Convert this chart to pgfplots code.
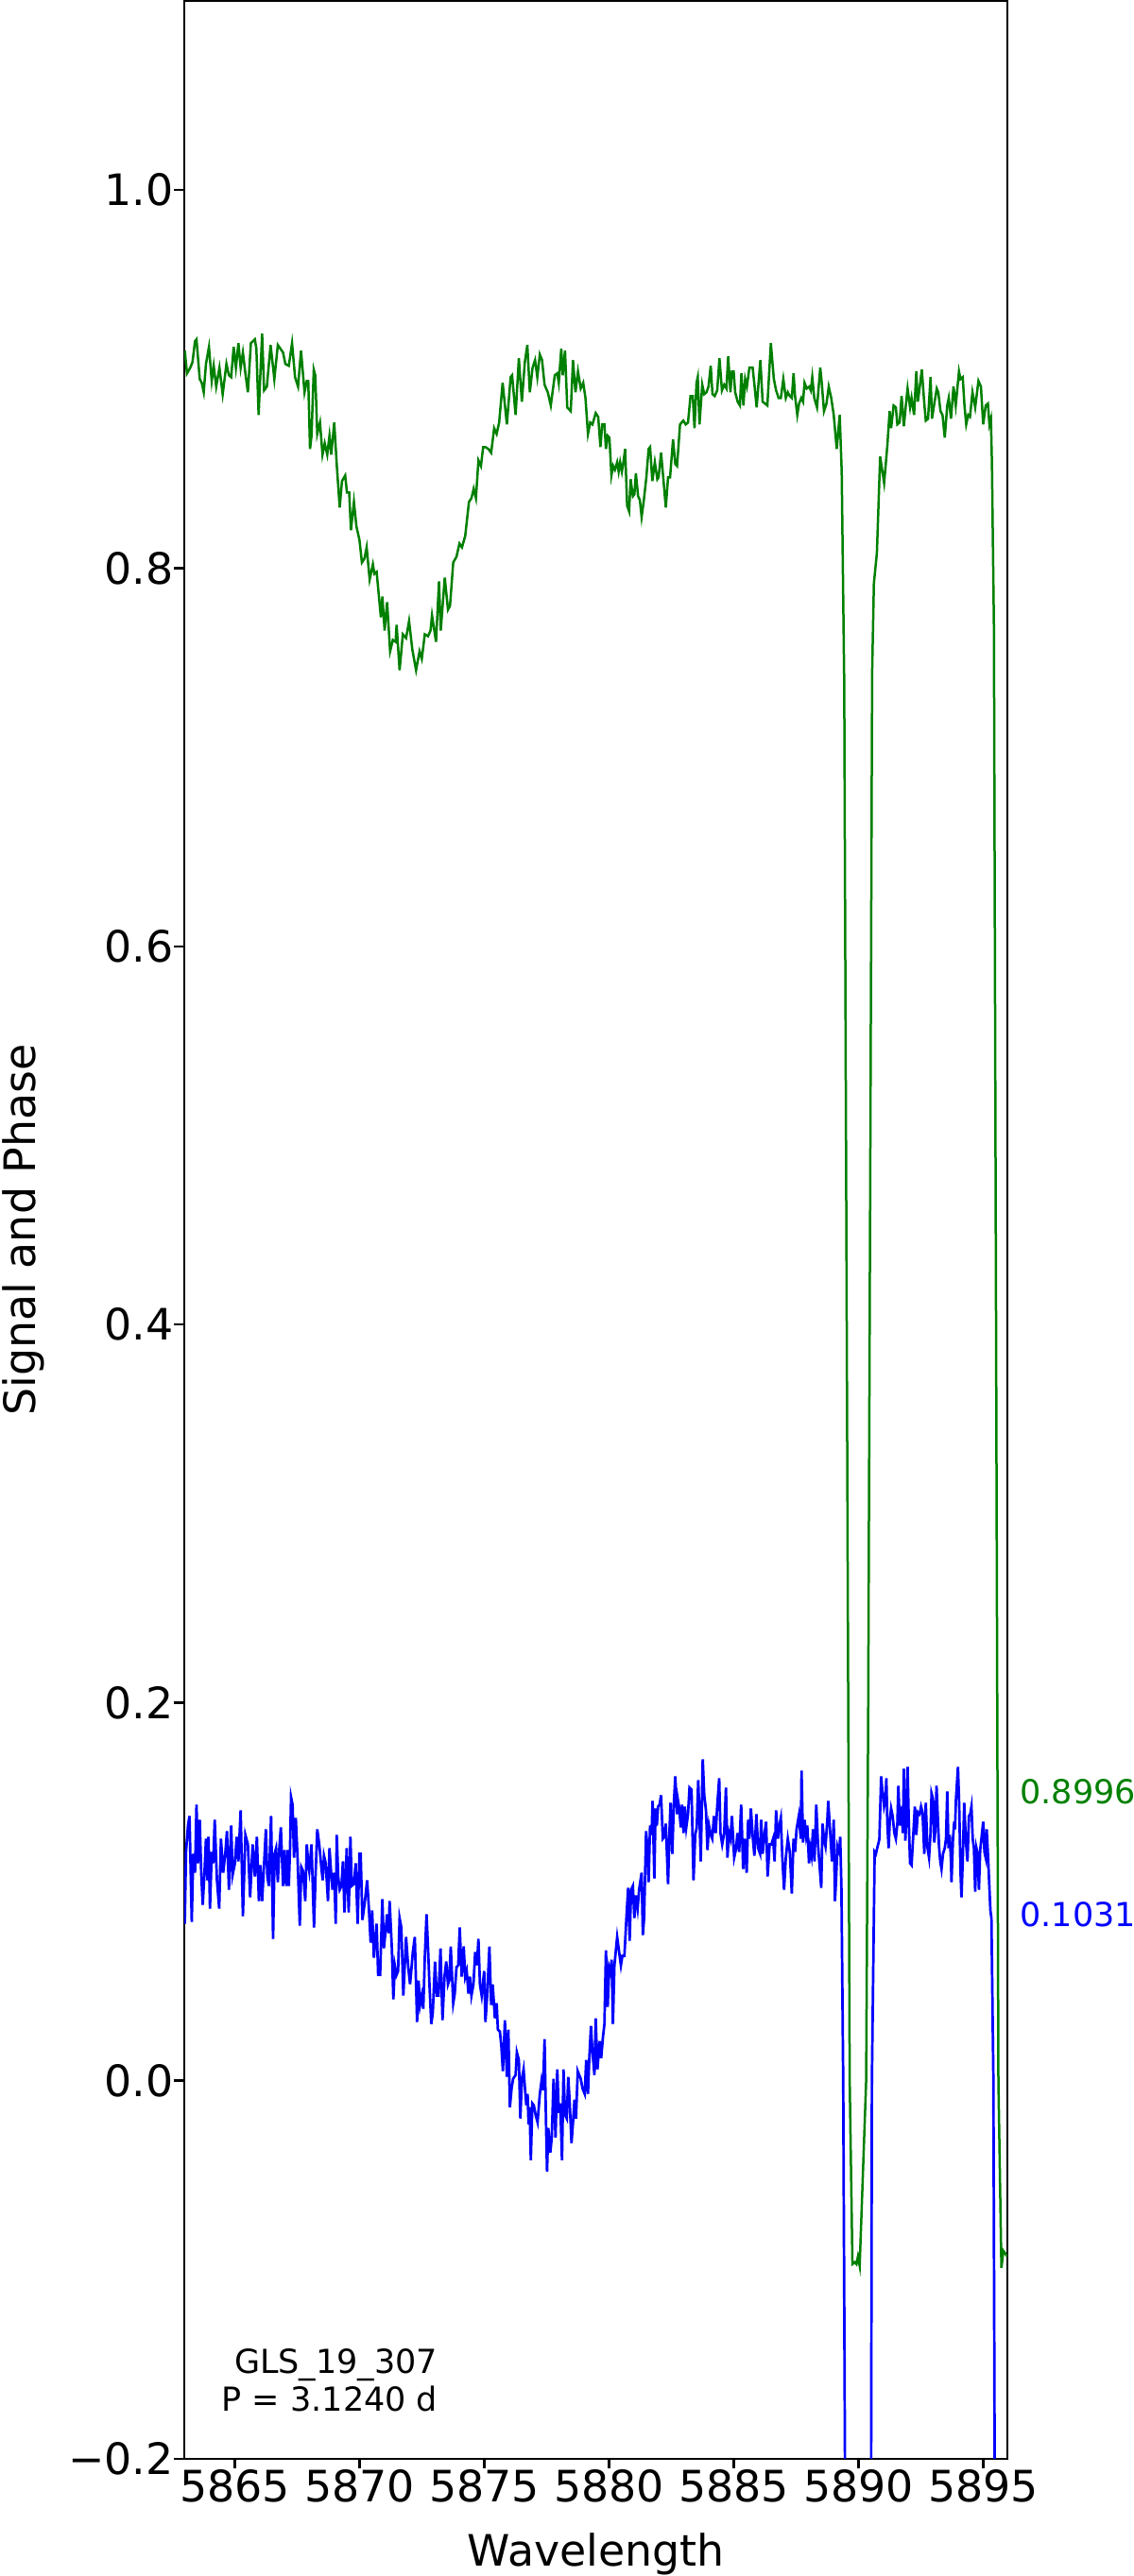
\documentclass[border=0pt]{standalone}
\usepackage{fontspec}
\setmainfont{DejaVu Sans}
\usepackage{pgfplots}
\pgfplotsset{compat=1.18}
\definecolor{mplgreen}{HTML}{008000}
\definecolor{mplblue}{HTML}{0000FF}

\begin{document}
\begin{tikzpicture}
\useasboundingbox (-46.8pt,-29.76pt) rectangle (241.2pt,624.72pt);
\begin{axis}[
    at={(0pt,0pt)}, anchor=south west,
    scale only axis, width=209.04pt, height=624.48pt,
    xmin=5862.97, xmax=5895.96, ymin=-0.2, ymax=1.1,
    xtick={5865,5870,5875,5880,5885,5890,5895},
    xticklabels={5865,5870,5875,5880,5885,5890,5895},
    ytick={-0.2,0,0.2,0.4,0.6,0.8,1.0},
    yticklabels={−0.2,0.0,0.2,0.4,0.6,0.8,1.0},
    scaled ticks=false,
    tick align=outside, tick pos=left, major tick length=2.52pt,
    every tick/.style={black, line width=0.58pt},
    axis line style={line width=0.58pt},
    tick label style={font=\fontsize{11}{13}\selectfont, inner sep=0pt},
    xticklabel style={anchor=north},
    yticklabel style={anchor=east},
    label style={font=\fontsize{11}{13}\selectfont, inner sep=0pt},
    xlabel={Wavelength},
    ylabel={Signal and Phase},
    xlabel style={at={(axis description cs:0.5,-0.04381)}, anchor=base},
    ylabel style={at={(axis description cs:-0.2216,0.5)}, anchor=north},
    clip mode=individual,
]
% upper spectrum
\addplot[color=mplgreen, line width=0.6pt] table {
x y
5862.99 0.915
5863.08 0.903
5863.21 0.906
5863.30 0.909
5863.40 0.920
5863.46 0.921
5863.59 0.900
5863.67 0.898
5863.75 0.893
5863.84 0.908
5863.96 0.917
5864.07 0.899
5864.15 0.907
5864.25 0.896
5864.38 0.906
5864.51 0.892
5864.66 0.908
5864.76 0.902
5864.85 0.901
5864.95 0.917
5865.04 0.906
5865.14 0.919
5865.23 0.906
5865.32 0.914
5865.42 0.903
5865.52 0.893
5865.64 0.919
5865.80 0.921
5865.86 0.916
5865.95 0.881
5866.09 0.924
5866.17 0.894
5866.28 0.896
5866.43 0.918
5866.58 0.900
5866.72 0.918
5866.93 0.914
5867.02 0.908
5867.16 0.907
5867.29 0.919
5867.41 0.901
5867.53 0.896
5867.65 0.915
5867.79 0.893
5867.88 0.899
5867.94 0.899
5868.01 0.863
5868.07 0.870
5868.16 0.905
5868.22 0.902
5868.30 0.871
5868.41 0.877
5868.51 0.860
5868.60 0.866
5868.70 0.860
5868.79 0.870
5868.86 0.860
5868.98 0.877
5869.08 0.855
5869.20 0.832
5869.29 0.846
5869.42 0.849
5869.49 0.840
5869.58 0.840
5869.65 0.820
5869.77 0.835
5869.87 0.822
5869.99 0.815
5870.09 0.803
5870.19 0.805
5870.28 0.811
5870.40 0.794
5870.53 0.802
5870.59 0.797
5870.68 0.798
5870.85 0.774
5870.91 0.785
5871.00 0.767
5871.10 0.782
5871.22 0.756
5871.33 0.762
5871.44 0.761
5871.48 0.770
5871.60 0.746
5871.73 0.765
5871.86 0.763
5871.98 0.772
5872.11 0.757
5872.26 0.746
5872.40 0.756
5872.49 0.752
5872.61 0.765
5872.74 0.764
5872.84 0.767
5872.90 0.775
5873.06 0.761
5873.18 0.793
5873.25 0.767
5873.41 0.795
5873.54 0.778
5873.62 0.780
5873.75 0.803
5873.88 0.806
5874.00 0.813
5874.10 0.811
5874.23 0.817
5874.38 0.835
5874.48 0.837
5874.57 0.842
5874.66 0.837
5874.76 0.857
5874.86 0.854
5874.95 0.864
5875.04 0.864
5875.16 0.863
5875.27 0.861
5875.39 0.874
5875.49 0.871
5875.59 0.877
5875.73 0.898
5875.90 0.876
5876.05 0.901
5876.11 0.902
5876.25 0.881
5876.38 0.911
5876.50 0.888
5876.62 0.909
5876.72 0.918
5876.82 0.893
5876.93 0.906
5877.03 0.910
5877.12 0.901
5877.22 0.913
5877.31 0.910
5877.41 0.897
5877.54 0.893
5877.66 0.886
5877.82 0.902
5877.92 0.903
5877.98 0.898
5878.08 0.916
5878.14 0.902
5878.23 0.915
5878.32 0.885
5878.46 0.883
5878.55 0.910
5878.65 0.893
5878.75 0.904
5878.86 0.895
5878.96 0.898
5879.05 0.890
5879.15 0.871
5879.24 0.877
5879.33 0.876
5879.46 0.882
5879.56 0.880
5879.65 0.864
5879.72 0.876
5879.81 0.876
5879.87 0.863
5879.94 0.870
5880.01 0.869
5880.09 0.849
5880.16 0.854
5880.23 0.852
5880.32 0.856
5880.38 0.851
5880.44 0.856
5880.51 0.851
5880.57 0.856
5880.64 0.863
5880.72 0.833
5880.80 0.830
5880.86 0.847
5880.95 0.838
5881.01 0.839
5881.07 0.850
5881.16 0.838
5881.23 0.836
5881.30 0.827
5881.39 0.836
5881.49 0.848
5881.58 0.863
5881.64 0.864
5881.73 0.846
5881.83 0.856
5881.93 0.847
5881.98 0.848
5882.08 0.861
5882.18 0.846
5882.27 0.832
5882.36 0.848
5882.44 0.848
5882.56 0.868
5882.65 0.855
5882.72 0.854
5882.84 0.876
5882.97 0.878
5883.07 0.876
5883.16 0.877
5883.26 0.891
5883.35 0.891
5883.42 0.874
5883.50 0.898
5883.55 0.901
5883.62 0.876
5883.73 0.897
5883.81 0.892
5883.90 0.893
5883.98 0.896
5884.07 0.907
5884.14 0.892
5884.23 0.891
5884.33 0.894
5884.42 0.911
5884.52 0.894
5884.61 0.897
5884.70 0.895
5884.77 0.912
5884.86 0.893
5884.92 0.904
5884.99 0.904
5885.05 0.893
5885.15 0.888
5885.24 0.886
5885.30 0.903
5885.38 0.886
5885.45 0.900
5885.52 0.896
5885.62 0.906
5885.75 0.906
5885.83 0.896
5885.91 0.885
5885.97 0.895
5886.06 0.910
5886.15 0.888
5886.25 0.887
5886.34 0.886
5886.48 0.919
5886.60 0.900
5886.69 0.894
5886.79 0.890
5886.88 0.890
5886.98 0.900
5887.08 0.890
5887.16 0.893
5887.24 0.891
5887.32 0.890
5887.39 0.903
5887.45 0.891
5887.54 0.881
5887.61 0.887
5887.70 0.890
5887.77 0.888
5887.83 0.898
5887.92 0.895
5888.02 0.896
5888.08 0.894
5888.14 0.901
5888.22 0.890
5888.33 0.885
5888.46 0.906
5888.52 0.898
5888.61 0.883
5888.71 0.887
5888.80 0.896
5888.90 0.890
5889.00 0.881
5889.12 0.863
5889.24 0.881
5889.32 0.851
5889.42 0.740
5889.64 0.000
5889.75 -0.097
5889.85 -0.096
5889.91 -0.097
5889.97 -0.093
5890.04 -0.098
5890.30 0.000
5890.38 0.190
5890.54 0.745
5890.61 0.792
5890.73 0.808
5890.86 0.859
5891.02 0.845
5891.15 0.865
5891.24 0.883
5891.30 0.874
5891.40 0.886
5891.49 0.885
5891.55 0.876
5891.64 0.877
5891.72 0.891
5891.81 0.875
5891.89 0.886
5891.96 0.895
5892.06 0.885
5892.12 0.890
5892.22 0.881
5892.31 0.904
5892.37 0.888
5892.44 0.895
5892.53 0.905
5892.63 0.887
5892.69 0.878
5892.78 0.879
5892.88 0.901
5892.94 0.879
5893.03 0.887
5893.13 0.895
5893.19 0.893
5893.28 0.883
5893.36 0.881
5893.45 0.869
5893.55 0.886
5893.61 0.890
5893.70 0.879
5893.80 0.896
5893.89 0.886
5894.02 0.904
5894.08 0.900
5894.17 0.901
5894.24 0.886
5894.31 0.876
5894.39 0.881
5894.46 0.880
5894.56 0.893
5894.67 0.885
5894.80 0.899
5894.90 0.896
5894.99 0.876
5895.09 0.886
5895.18 0.887
5895.24 0.876
5895.30 0.879
5895.34 0.856
5895.42 0.770
5895.60 0.000
5895.72 -0.099
5895.80 -0.090
5895.96 -0.093
};
% lower spectrum
\addplot[color=mplblue, line width=0.65pt] table {
x y
5862.99 0.083
5863.04 0.121
5863.12 0.135
5863.18 0.140
5863.27 0.084
5863.33 0.120
5863.40 0.110
5863.46 0.146
5863.52 0.115
5863.59 0.138
5863.65 0.110
5863.71 0.093
5863.78 0.110
5863.84 0.128
5863.90 0.106
5863.94 0.129
5864.00 0.091
5864.07 0.121
5864.13 0.115
5864.19 0.138
5864.28 0.106
5864.37 0.091
5864.44 0.128
5864.53 0.110
5864.62 0.121
5864.68 0.132
5864.76 0.101
5864.85 0.135
5864.91 0.109
5865.00 0.115
5865.07 0.129
5865.14 0.116
5865.23 0.143
5865.32 0.087
5865.42 0.130
5865.52 0.125
5865.61 0.097
5865.71 0.125
5865.80 0.108
5865.88 0.129
5865.96 0.095
5866.02 0.114
5866.09 0.095
5866.17 0.115
5866.24 0.133
5866.30 0.108
5866.36 0.103
5866.45 0.140
5866.53 0.075
5866.59 0.120
5866.65 0.123
5866.72 0.105
5866.78 0.123
5866.84 0.134
5866.93 0.103
5866.99 0.122
5867.06 0.103
5867.12 0.122
5867.16 0.103
5867.21 0.123
5867.25 0.150
5867.31 0.146
5867.37 0.118
5867.44 0.139
5867.51 0.118
5867.60 0.082
5867.66 0.113
5867.73 0.111
5867.82 0.095
5867.88 0.125
5867.94 0.115
5867.98 0.111
5868.07 0.125
5868.17 0.081
5868.23 0.108
5868.30 0.133
5868.38 0.125
5868.47 0.112
5868.52 0.106
5868.57 0.119
5868.64 0.115
5868.73 0.095
5868.79 0.123
5868.85 0.111
5868.91 0.101
5868.98 0.110
5869.04 0.083
5869.08 0.130
5869.14 0.108
5869.20 0.101
5869.27 0.103
5869.33 0.116
5869.39 0.089
5869.48 0.123
5869.56 0.089
5869.63 0.129
5869.68 0.103
5869.77 0.104
5869.84 0.115
5869.92 0.083
5869.99 0.120
5870.04 0.120
5870.11 0.085
5870.21 0.095
5870.30 0.106
5870.37 0.091
5870.44 0.073
5870.50 0.090
5870.57 0.065
5870.63 0.075
5870.68 0.083
5870.74 0.056
5870.82 0.056
5870.91 0.096
5870.97 0.070
5871.03 0.078
5871.10 0.088
5871.16 0.078
5871.20 0.095
5871.29 0.070
5871.35 0.043
5871.41 0.061
5871.48 0.056
5871.54 0.058
5871.60 0.086
5871.67 0.081
5871.75 0.045
5871.86 0.076
5871.94 0.061
5872.02 0.051
5872.08 0.060
5872.13 0.068
5872.21 0.076
5872.30 0.031
5872.36 0.053
5872.42 0.040
5872.49 0.045
5872.55 0.038
5872.61 0.065
5872.68 0.088
5872.74 0.070
5872.80 0.050
5872.87 0.030
5872.93 0.036
5873.02 0.063
5873.09 0.045
5873.16 0.045
5873.24 0.070
5873.32 0.032
5873.40 0.055
5873.47 0.063
5873.54 0.051
5873.59 0.053
5873.65 0.071
5873.75 0.041
5873.81 0.046
5873.88 0.060
5873.95 0.061
5874.01 0.081
5874.09 0.055
5874.17 0.071
5874.23 0.055
5874.29 0.058
5874.36 0.046
5874.42 0.055
5874.48 0.045
5874.56 0.051
5874.63 0.068
5874.70 0.061
5874.76 0.075
5874.82 0.051
5874.89 0.045
5874.99 0.058
5875.04 0.031
5875.11 0.045
5875.20 0.071
5875.27 0.040
5875.33 0.051
5875.42 0.033
5875.49 0.041
5875.54 0.027
5875.62 0.026
5875.68 0.018
5875.74 0.005
5875.82 0.032
5875.90 0.002
5875.96 0.027
5876.02 -0.014
5876.09 -0.004
5876.15 0.001
5876.25 0.003
5876.30 0.015
5876.38 0.011
5876.44 -0.020
5876.50 0.001
5876.57 0.006
5876.63 -0.005
5876.68 -0.013
5876.73 -0.007
5876.77 -0.023
5876.81 -0.014
5876.86 -0.042
5876.92 -0.012
5876.98 -0.013
5877.05 -0.018
5877.13 -0.022
5877.22 -0.007
5877.29 0.000
5877.35 -0.005
5877.41 0.022
5877.47 -0.023
5877.51 -0.048
5877.56 -0.025
5877.64 -0.038
5877.70 -0.030
5877.77 0.001
5877.85 -0.030
5877.92 0.006
5877.98 -0.017
5878.04 -0.012
5878.11 -0.042
5878.17 0.006
5878.23 -0.018
5878.30 -0.020
5878.36 0.002
5878.42 -0.012
5878.49 -0.033
5878.55 -0.022
5878.61 -0.010
5878.67 -0.020
5878.74 0.005
5878.80 0.003
5878.86 0.001
5878.93 -0.004
5879.02 -0.007
5879.08 0.011
5879.15 -0.007
5879.20 0.011
5879.27 0.029
5879.33 0.015
5879.41 0.003
5879.46 0.033
5879.53 0.006
5879.62 0.021
5879.68 0.012
5879.75 0.023
5879.81 0.030
5879.87 0.069
5879.94 0.039
5880.00 0.060
5880.06 0.057
5880.10 0.064
5880.15 0.030
5880.21 0.061
5880.32 0.076
5880.38 0.070
5880.47 0.061
5880.53 0.066
5880.61 0.066
5880.69 0.086
5880.76 0.102
5880.82 0.074
5880.88 0.101
5880.95 0.103
5881.01 0.086
5881.07 0.098
5881.14 0.091
5881.20 0.101
5881.30 0.110
5881.35 0.077
5881.40 0.086
5881.48 0.132
5881.54 0.122
5881.58 0.105
5881.64 0.135
5881.70 0.130
5881.74 0.148
5881.81 0.107
5881.86 0.144
5881.91 0.135
5881.96 0.145
5882.02 0.146
5882.08 0.151
5882.15 0.128
5882.21 0.129
5882.27 0.136
5882.36 0.104
5882.42 0.133
5882.46 0.147
5882.53 0.120
5882.59 0.146
5882.65 0.161
5882.72 0.141
5882.75 0.149
5882.80 0.145
5882.87 0.134
5882.92 0.146
5882.98 0.131
5883.03 0.145
5883.09 0.134
5883.16 0.141
5883.22 0.155
5883.30 0.154
5883.38 0.106
5883.45 0.130
5883.51 0.134
5883.57 0.159
5883.62 0.140
5883.67 0.116
5883.75 0.170
5883.81 0.151
5883.88 0.143
5883.94 0.122
5884.00 0.135
5884.07 0.130
5884.13 0.128
5884.20 0.140
5884.27 0.131
5884.33 0.145
5884.41 0.160
5884.46 0.131
5884.53 0.125
5884.61 0.131
5884.68 0.155
5884.74 0.118
5884.80 0.131
5884.86 0.128
5884.92 0.140
5885.01 0.118
5885.09 0.123
5885.14 0.131
5885.21 0.121
5885.29 0.146
5885.37 0.112
5885.43 0.128
5885.51 0.110
5885.57 0.138
5885.62 0.128
5885.68 0.144
5885.76 0.128
5885.82 0.119
5885.90 0.141
5885.97 0.123
5886.05 0.120
5886.09 0.138
5886.15 0.120
5886.23 0.131
5886.29 0.137
5886.35 0.108
5886.43 0.125
5886.50 0.125
5886.57 0.128
5886.63 0.116
5886.69 0.143
5886.76 0.128
5886.82 0.135
5886.88 0.139
5886.94 0.118
5887.01 0.101
5887.08 0.118
5887.16 0.128
5887.24 0.121
5887.32 0.099
5887.39 0.128
5887.45 0.121
5887.51 0.133
5887.60 0.140
5887.68 0.128
5887.71 0.164
5887.77 0.126
5887.83 0.138
5887.89 0.130
5887.94 0.135
5888.01 0.115
5888.06 0.123
5888.11 0.119
5888.17 0.133
5888.23 0.116
5888.30 0.146
5888.37 0.125
5888.42 0.116
5888.50 0.102
5888.55 0.136
5888.61 0.128
5888.67 0.124
5888.74 0.137
5888.78 0.148
5888.84 0.135
5888.93 0.116
5889.00 0.138
5889.05 0.095
5889.09 0.105
5889.15 0.124
5889.22 0.121
5889.26 0.129
5889.31 0.101
5889.38 0.000
5889.45 -0.200
5889.50 -0.600
5890.46 -0.600
5890.50 -0.200
5890.53 0.000
5890.64 0.121
5890.69 0.120
5890.76 0.124
5890.80 0.126
5890.83 0.128
5890.90 0.161
5890.95 0.153
5890.98 0.151
5891.02 0.145
5891.07 0.148
5891.11 0.160
5891.15 0.136
5891.20 0.123
5891.25 0.138
5891.30 0.144
5891.36 0.140
5891.43 0.131
5891.49 0.128
5891.55 0.136
5891.59 0.156
5891.65 0.135
5891.72 0.145
5891.77 0.131
5891.81 0.165
5891.87 0.127
5891.91 0.138
5891.96 0.166
5892.01 0.136
5892.06 0.115
5892.12 0.114
5892.18 0.128
5892.25 0.145
5892.31 0.130
5892.37 0.142
5892.44 0.141
5892.50 0.145
5892.56 0.142
5892.63 0.120
5892.69 0.147
5892.75 0.124
5892.82 0.118
5892.88 0.131
5892.92 0.152
5892.98 0.149
5893.03 0.126
5893.07 0.132
5893.12 0.156
5893.17 0.140
5893.22 0.124
5893.27 0.116
5893.32 0.112
5893.38 0.120
5893.45 0.123
5893.50 0.128
5893.55 0.153
5893.60 0.123
5893.65 0.130
5893.70 0.116
5893.72 0.105
5893.78 0.128
5893.83 0.137
5893.86 0.133
5893.90 0.149
5893.98 0.166
5894.03 0.145
5894.08 0.111
5894.12 0.097
5894.17 0.116
5894.23 0.147
5894.29 0.128
5894.36 0.116
5894.42 0.140
5894.47 0.141
5894.52 0.145
5894.57 0.128
5894.62 0.123
5894.67 0.100
5894.72 0.123
5894.77 0.120
5894.82 0.101
5894.87 0.122
5894.92 0.128
5894.99 0.137
5895.04 0.121
5895.09 0.118
5895.13 0.133
5895.18 0.120
5895.23 0.105
5895.28 0.090
5895.32 0.086
5895.40 0.000
5895.45 -0.200
5895.50 -0.600
5895.96 -0.600
};
\node[anchor=west, inner sep=0pt, text=mplgreen, font=\fontsize{8.4}{10}\selectfont]
  at (axis cs:5896.44,0.1528) {0.8996};
\node[anchor=west, inner sep=0pt, text=mplblue, font=\fontsize{8.4}{10}\selectfont]
  at (axis cs:5896.44,0.0880) {0.1031};
\node[anchor=base east, inner sep=0pt, font=\fontsize{8.4}{10}\selectfont]
  at (axis cs:5873.16,-0.1547) {GLS\_19\_307};
\node[anchor=base east, inner sep=0pt, font=\fontsize{8.4}{10}\selectfont]
  at (axis cs:5873.16,-0.1747) {P = 3.1240 d};
\end{axis}
\end{tikzpicture}
\end{document}
